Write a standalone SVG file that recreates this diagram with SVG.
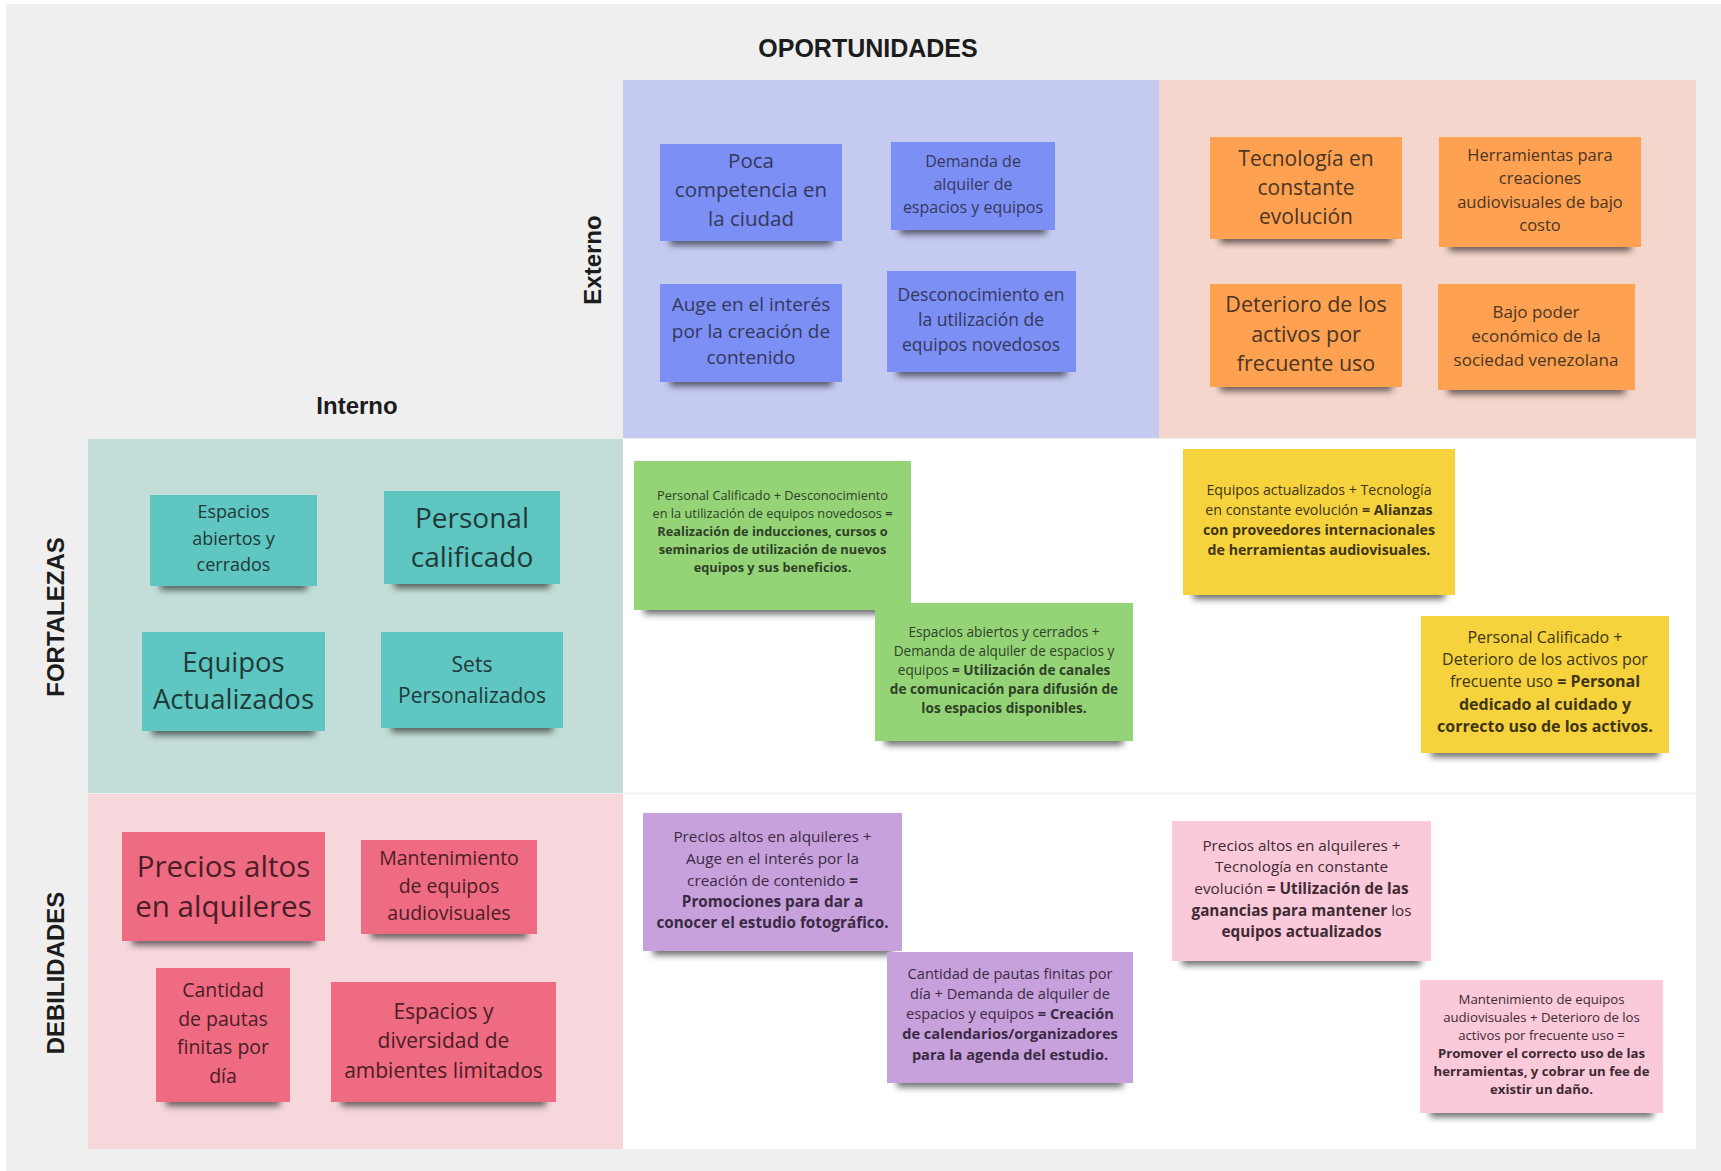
<svg xmlns="http://www.w3.org/2000/svg" width="1721" height="1171" viewBox="0 0 1721 1171">
<defs>
<filter id="blur" x="-20%" y="-200%" width="140%" height="500%"><feGaussianBlur stdDeviation="3.5"/></filter>
<style>
.title{font-family:"Liberation Sans",Arial,sans-serif;font-weight:bold;fill:#1c1c1c;text-anchor:middle}
.st{font-family:"Open Sans","Liberation Sans",sans-serif;text-anchor:middle;font-weight:400}
.b{font-weight:700}
.sh{fill:#000;opacity:.6;filter:url(#blur);transform:translateY(3px)}
.cb{fill:#7c8ff5}.co{fill:#fea150}.ct{fill:#5fc6c1}.cp{fill:#ef6b81}
.cg{fill:#94d476}.cy{fill:#f6d23d}.cu{fill:#c7a1db}.cl{fill:#fac9da}
.tb{fill:#34385a}.to{fill:#4a3526}.tt{fill:#1f3a39}.tp{fill:#4a1d27}
.tg{fill:#2f3f28}.ty{fill:#3d3515}.tu{fill:#3a2a44}.tl{fill:#3f2a33}
</style>
</defs>
<rect x="0" y="0" width="1721" height="1171" fill="#ffffff"/>
<rect x="6" y="4" width="1715" height="1167" fill="#efefef"/>

<g id="quadrants">
<rect x="623" y="80" width="536" height="358" fill="#c5caf1"/>
<rect x="1159" y="80" width="537" height="358" fill="#f5d6cc"/>
<rect x="88" y="439" width="535" height="354" fill="#c3ded8"/>
<rect x="88" y="794" width="535" height="355" fill="#f6d8dc"/>
<rect x="623" y="439" width="1073" height="710" fill="#ffffff"/>
<line x1="623" y1="793.5" x2="1696" y2="793.5" stroke="#f2f2f2" stroke-width="2"/>
</g>

<g id="labels">
<text class="title" x="868" y="57" font-size="25">OPORTUNIDADES</text>
<text class="title" x="357" y="414" font-size="24">Interno</text>
<text class="title" font-size="24" transform="translate(601,260) rotate(-90)">Externo</text>
<text class="title" font-size="24" transform="translate(64,617) rotate(-90)">FORTALEZAS</text>
<text class="title" font-size="24" transform="translate(64,973) rotate(-90)">DEBILIDADES</text>
</g>

<!-- Blue: oportunidades -->
<g id="op1"><rect class="sh" x="670" y="232" width="162" height="10"/><rect class="cb" x="660" y="144" width="182" height="97"/>
<text class="st tb" font-size="20.5" x="751"><tspan x="751" y="168">Poca</tspan><tspan x="751" y="197">competencia en</tspan><tspan x="751" y="226">la ciudad</tspan></text></g>
<g id="op2"><rect class="sh" x="900" y="221" width="146" height="10"/><rect class="cb" x="891" y="142" width="164" height="88"/>
<text class="st tb" font-size="16"><tspan x="973" y="167">Demanda de</tspan><tspan x="973" y="190">alquiler de</tspan><tspan x="973" y="213">espacios y equipos</tspan></text></g>
<g id="op3"><rect class="sh" x="670" y="373" width="162" height="10"/><rect class="cb" x="660" y="284" width="182" height="98"/>
<text class="st tb" font-size="19"><tspan x="751" y="311">Auge en el interés</tspan><tspan x="751" y="338">por la creación de</tspan><tspan x="751" y="364">contenido</tspan></text></g>
<g id="op4"><rect class="sh" x="897" y="363" width="169" height="10"/><rect class="cb" x="887" y="271" width="189" height="101"/>
<text class="st tb" font-size="17.5"><tspan x="981" y="301">Desconocimiento en</tspan><tspan x="981" y="326">la utilización de</tspan><tspan x="981" y="351">equipos novedosos</tspan></text></g>

<!-- Orange: amenazas -->
<g id="am1"><rect class="sh" x="1220" y="230" width="172" height="10"/><rect class="co" x="1210" y="137" width="192" height="102"/>
<text class="st to" font-size="21"><tspan x="1306" y="166">Tecnología en</tspan><tspan x="1306" y="195">constante</tspan><tspan x="1306" y="224">evolución</tspan></text></g>
<g id="am2"><rect class="sh" x="1449" y="238" width="182" height="10"/><rect class="co" x="1439" y="137" width="202" height="110"/>
<text class="st to" font-size="16.5"><tspan x="1540" y="161">Herramientas para</tspan><tspan x="1540" y="184">creaciones</tspan><tspan x="1540" y="208">audiovisuales de bajo</tspan><tspan x="1540" y="231">costo</tspan></text></g>
<g id="am3"><rect class="sh" x="1220" y="378" width="172" height="10"/><rect class="co" x="1210" y="284" width="192" height="103"/>
<text class="st to" font-size="21.5"><tspan x="1306" y="312">Deterioro de los</tspan><tspan x="1306" y="342">activos por</tspan><tspan x="1306" y="371">frecuente uso</tspan></text></g>
<g id="am4"><rect class="sh" x="1448" y="381" width="177" height="10"/><rect class="co" x="1438" y="284" width="197" height="106"/>
<text class="st to" font-size="17"><tspan x="1536" y="318">Bajo poder</tspan><tspan x="1536" y="342">económico de la</tspan><tspan x="1536" y="366">sociedad venezolana</tspan></text></g>

<!-- Teal: fortalezas -->
<g id="fo1"><rect class="sh" x="160" y="577" width="147" height="10"/><rect class="ct" x="150" y="495" width="167" height="91"/>
<text class="st tt" font-size="18"><tspan x="233.5" y="518">Espacios</tspan><tspan x="233.5" y="545">abiertos y</tspan><tspan x="233.5" y="571">cerrados</tspan></text></g>
<g id="fo2"><rect class="sh" x="394" y="575" width="156" height="10"/><rect class="ct" x="384" y="491" width="176" height="93"/>
<text class="st tt" font-size="28"><tspan x="472" y="528">Personal</tspan><tspan x="472" y="567">calificado</tspan></text></g>
<g id="fo3"><rect class="sh" x="152" y="722" width="163" height="10"/><rect class="ct" x="142" y="632" width="183" height="99"/>
<text class="st tt" font-size="27.5"><tspan x="233.5" y="672">Equipos</tspan><tspan x="233.5" y="709">Actualizados</tspan></text></g>
<g id="fo4"><rect class="sh" x="391" y="719" width="162" height="10"/><rect class="ct" x="381" y="632" width="182" height="96"/>
<text class="st tt" font-size="21"><tspan x="472" y="672">Sets</tspan><tspan x="472" y="703">Personalizados</tspan></text></g>

<!-- Pink: debilidades -->
<g id="de1"><rect class="sh" x="132" y="932" width="183" height="10"/><rect class="cp" x="122" y="832" width="203" height="109"/>
<text class="st tp" font-size="29.5"><tspan x="223.5" y="877">Precios altos</tspan><tspan x="223.5" y="917">en alquileres</tspan></text></g>
<g id="de2"><rect class="sh" x="371" y="925" width="156" height="10"/><rect class="cp" x="361" y="840" width="176" height="94"/>
<text class="st tp" font-size="19.5"><tspan x="449" y="865">Mantenimiento</tspan><tspan x="449" y="893">de equipos</tspan><tspan x="449" y="920">audiovisuales</tspan></text></g>
<g id="de3"><rect class="sh" x="166" y="1093" width="114" height="10"/><rect class="cp" x="156" y="968" width="134" height="134"/>
<text class="st tp" font-size="19.5"><tspan x="223" y="997">Cantidad</tspan><tspan x="223" y="1026">de pautas</tspan><tspan x="223" y="1054">finitas por</tspan><tspan x="223" y="1083">día</tspan></text></g>
<g id="de4"><rect class="sh" x="341" y="1093" width="205" height="10"/><rect class="cp" x="331" y="982" width="225" height="120"/>
<text class="st tp" font-size="21"><tspan x="443.5" y="1019">Espacios y</tspan><tspan x="443.5" y="1048">diversidad de</tspan><tspan x="443.5" y="1078">ambientes limitados</tspan></text></g>

<!-- FO strategies -->
<g id="fo_op1"><rect class="sh" x="644" y="601" width="257" height="10"/><rect class="cg" x="634" y="461" width="277" height="149"/>
<text class="st tg" font-size="12.8"><tspan x="772.5" y="500">Personal Calificado + Desconocimiento</tspan><tspan x="772.5" y="518">en la utilización de equipos novedosos <tspan class="b">=</tspan></tspan><tspan x="772.5" y="536" class="b">Realización de inducciones, cursos o</tspan><tspan x="772.5" y="554" class="b">seminarios de utilización de nuevos</tspan><tspan x="772.5" y="572" class="b">equipos y sus beneficios.</tspan></text></g>
<g id="fo_op2"><rect class="sh" x="885" y="732" width="238" height="10"/><rect class="cg" x="875" y="603" width="258" height="138"/>
<text class="st tg" font-size="13.6"><tspan x="1004" y="637">Espacios abiertos y cerrados +</tspan><tspan x="1004" y="656">Demanda de alquiler de espacios y</tspan><tspan x="1004" y="675">equipos <tspan class="b">= Utilización de canales</tspan></tspan><tspan x="1004" y="694" class="b">de comunicación para difusión de</tspan><tspan x="1004" y="713" class="b">los espacios disponibles.</tspan></text></g>

<!-- FA strategies -->
<g id="fo_am1"><rect class="sh" x="1193" y="586" width="252" height="10"/><rect class="cy" x="1183" y="449" width="272" height="146"/>
<text class="st ty" font-size="14.2"><tspan x="1319" y="495">Equipos actualizados + Tecnología</tspan><tspan x="1319" y="515">en constante evolución <tspan class="b">= Alianzas</tspan></tspan><tspan x="1319" y="535" class="b">con proveedores internacionales</tspan><tspan x="1319" y="555" class="b">de herramientas audiovisuales.</tspan></text></g>
<g id="fo_am2"><rect class="sh" x="1431" y="744" width="228" height="10"/><rect class="cy" x="1421" y="616" width="248" height="137"/>
<text class="st ty" font-size="16"><tspan x="1545" y="643">Personal Calificado +</tspan><tspan x="1545" y="665">Deterioro de los activos por</tspan><tspan x="1545" y="687">frecuente uso <tspan class="b">= Personal</tspan></tspan><tspan x="1545" y="710" class="b">dedicado al cuidado y</tspan><tspan x="1545" y="732" class="b">correcto uso de los activos.</tspan></text></g>

<!-- DO strategies -->
<g id="de_op1"><rect class="sh" x="653" y="942" width="239" height="10"/><rect class="cu" x="643" y="813" width="259" height="138"/>
<text class="st tu" font-size="15.3"><tspan x="772.5" y="842">Precios altos en alquileres +</tspan><tspan x="772.5" y="864">Auge en el interés por la</tspan><tspan x="772.5" y="886">creación de contenido <tspan class="b">=</tspan></tspan><tspan x="772.5" y="907" class="b">Promociones para dar a</tspan><tspan x="772.5" y="928" class="b">conocer el estudio fotográfico.</tspan></text></g>
<g id="de_op2"><rect class="sh" x="897" y="1074" width="226" height="10"/><rect class="cu" x="887" y="952" width="246" height="131"/>
<text class="st tu" font-size="14.6"><tspan x="1010" y="979">Cantidad de pautas finitas por</tspan><tspan x="1010" y="999">día + Demanda de alquiler de</tspan><tspan x="1010" y="1019">espacios y equipos <tspan class="b">= Creación</tspan></tspan><tspan x="1010" y="1039" class="b">de calendarios/organizadores</tspan><tspan x="1010" y="1060" class="b">para la agenda del estudio.</tspan></text></g>

<!-- DA strategies -->
<g id="de_am1"><rect class="sh" x="1182" y="952" width="239" height="10"/><rect class="cl" x="1172" y="821" width="259" height="140"/>
<text class="st tl" font-size="15.3"><tspan x="1301.5" y="851">Precios altos en alquileres +</tspan><tspan x="1301.5" y="872">Tecnología en constante</tspan><tspan x="1301.5" y="894">evolución <tspan class="b">= Utilización de las</tspan></tspan><tspan x="1301.5" y="916"><tspan class="b">ganancias para mantener</tspan> los</tspan><tspan x="1301.5" y="937" class="b">equipos actualizados</tspan></text></g>
<g id="de_am2"><rect class="sh" x="1430" y="1104" width="223" height="10"/><rect class="cl" x="1420" y="980" width="243" height="133"/>
<text class="st tl" font-size="13.2"><tspan x="1541.5" y="1004">Mantenimiento de equipos</tspan><tspan x="1541.5" y="1022">audiovisuales + Deterioro de los</tspan><tspan x="1541.5" y="1040">activos por frecuente uso =</tspan><tspan x="1541.5" y="1058" class="b">Promover el correcto uso de las</tspan><tspan x="1541.5" y="1076" class="b">herramientas, y cobrar un fee de</tspan><tspan x="1541.5" y="1094" class="b">existir un daño.</tspan></text></g>
</svg>
